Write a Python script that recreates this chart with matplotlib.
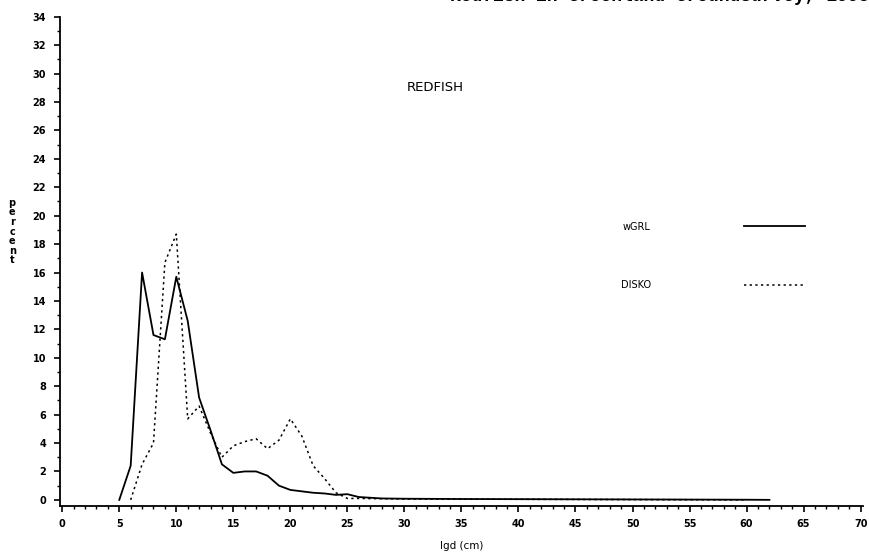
import numpy as np
import matplotlib
matplotlib.use("Agg")
import matplotlib.pyplot as plt

# length groups (cm) and percent
wgrl_len = [5, 6, 7, 8, 9, 10, 11, 12, 13, 14, 15, 16, 17, 18, 19, 20, 21, 22, 23, 24, 25, 26, 27, 28, 30, 35, 40, 45, 50, 55, 60, 62]
wgrl_pct = [0.0, 2.4, 16.0, 11.6, 11.3, 15.7, 12.6, 7.2, 4.9, 2.5, 1.9, 2.0, 2.0, 1.7, 1.0, 0.7, 0.6, 0.5, 0.45, 0.35, 0.4, 0.2, 0.15, 0.1, 0.08, 0.06, 0.05, 0.04, 0.03, 0.02, 0.01, 0.0]

disko_len = [6, 7, 8, 9, 10, 11, 12, 13, 14, 15, 16, 17, 18, 19, 20, 21, 22, 23, 24, 25, 26, 28, 30, 35, 40, 45, 50, 55, 60]
disko_pct = [0.0, 2.5, 4.0, 16.7, 18.7, 5.7, 6.6, 4.7, 3.0, 3.8, 4.1, 4.3, 3.6, 4.2, 5.7, 4.5, 2.4, 1.5, 0.5, 0.1, 0.1, 0.08, 0.06, 0.05, 0.04, 0.03, 0.02, 0.01, 0.0]

series_names = ["wGRL", "DISKO"]
x_ticks = np.arange(0, 71, 5)
y_ticks = np.arange(0, 35, 2)

fig = plt.figure(figsize=(8.69, 5.58), dpi=100)
ax = fig.add_axes([0.069, 0.094, 0.924, 0.876])

ax.plot(wgrl_len, wgrl_pct, color="black", lw=1.3, label=series_names[0])
ax.plot(disko_len, disko_pct, color="black", lw=1.1, linestyle=(0, (1.5, 2.2)),
        label=series_names[1])

ax.set_xlim(-0.2, 70.2)
ax.set_ylim(-0.4, 34)
ax.set_xticks(x_ticks)
ax.set_xticks(np.arange(0, 71, 1), minor=True)
ax.set_yticks(y_ticks)
ax.set_yticks(np.arange(0, 35, 1), minor=True)
ax.tick_params(axis="both", which="major", labelsize=7, length=4, width=1.2,
               direction="out", pad=6)
ax.tick_params(axis="both", which="minor", length=2, width=1)
for lab in ax.get_xticklabels() + ax.get_yticklabels():
    lab.set_fontweight("bold")

for s in ["top", "right"]:
    ax.spines[s].set_visible(False)
for s in ["left", "bottom"]:
    ax.spines[s].set_linewidth(1.3)

ax.set_xlabel("lgd (cm)", fontsize=7.5, labelpad=8)
fig.text(0.014, 0.585, "p\ne\nr\nc\ne\nn\nt", fontsize=7, fontweight="bold",
         ha="center", va="center", linespacing=0.95)

ax.text(0.467, 0.855, "REDFISH", transform=ax.transAxes, fontsize=9.5,
        ha="center", va="center")

leg = ax.legend(loc="upper left", bbox_to_anchor=(0.69, 0.595), frameon=False,
                markerfirst=False, fontsize=7, handlelength=6.2,
                handletextpad=9.6, labelspacing=5.0, borderpad=0.2)

# title line cut off at the top of the scan
fig.text(1.0, 1.006, "Redfish in Greenland Groundsurvey, 1995",
         ha="right", va="center", fontsize=13, fontweight="bold",
         family="Liberation Mono")

fig.savefig("out.png", dpi=100)
